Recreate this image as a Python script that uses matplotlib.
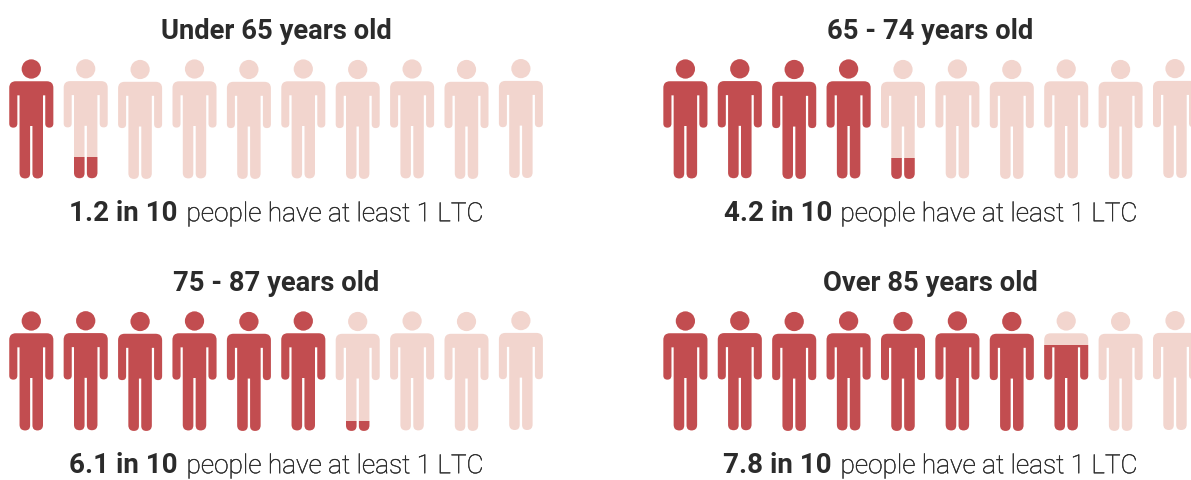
import matplotlib
matplotlib.use("Agg")
import matplotlib.pyplot as plt
import matplotlib.patheffects as pe
from matplotlib.patches import Circle, PathPatch, Rectangle
from matplotlib.path import Path

# data
titles = ["Under 65 years old", "65 - 74 years old", "75 - 87 years old", "Over 85 years old"]
values = [1.2, 4.2, 6.1, 7.8]
n_people = 10
caption_tail = "people have at least 1 LTC"

RED = "#C24D50"
LIGHT = "#F2D5CE"
INK = "#2B2B2B"
FONT = "Roboto"

# panel origin, x of the first person and y shift, in pixels
panel_x = [31.3, 685.4, 31.3, 685.4]
panel_y = [0, 0, 252, 252]
title_x = [276, 930, 276, 930]
caption_x = [276.5, 930.5, 276.5, 930.5]
step = 54.4
# the icons in the source sit slightly off a straight line
wobble = [0, -0.2, 0.5, 0, 0.5, 0, 0.5, 0, 0.5, -0.4]


def rounded_path(pts):
    # pts = (x, y, radius) corners of a closed outline
    verts, codes = [], []
    n = len(pts)
    for i in range(n):
        x0, y0, _ = pts[i - 1]
        x1, y1, r = pts[i]
        x2, y2, _ = pts[(i + 1) % n]
        d0 = ((x1 - x0) ** 2 + (y1 - y0) ** 2) ** 0.5
        d2 = ((x2 - x1) ** 2 + (y2 - y1) ** 2) ** 0.5
        a = (x1 + (x0 - x1) * r / d0, y1 + (y0 - y1) * r / d0)
        b = (x1 + (x2 - x1) * r / d2, y1 + (y2 - y1) * r / d2)
        verts.append(a)
        codes.append(Path.MOVETO if i == 0 else Path.LINETO)
        if r > 0:
            verts += [(x1, y1), b]
            codes += [Path.CURVE3, Path.CURVE3]
    verts.append(verts[0])
    codes.append(Path.CLOSEPOLY)
    return Path(verts, codes)


def body_path(cx, dy):
    half = [
        (22, 81.3, 6.5), (22, 127.6, 4), (14, 127.6, 4), (14, 95.3, 0),
        (11.7, 95.3, 0), (11.7, 178.4, 5.6), (1.2, 178.4, 5), (1.2, 126, 0),
    ]
    left = [(-x, y, r) for x, y, r in reversed(half)]
    pts = [(cx + x, y + dy, r) for x, y, r in half + left]
    return rounded_path(pts)


def draw_person(ax, cx, dy, fill):
    for color, amount in ((LIGHT, 1.0), (RED, fill)):
        if amount <= 0:
            continue
        head = Circle((cx, 69 + dy), 9.6, fc=color, ec="none")
        body = PathPatch(body_path(cx, dy), fc=color, ec="none")
        ax.add_patch(head)
        ax.add_patch(body)
        if amount < 1:
            h = amount * 108
            clip = Rectangle((cx - 30, 179 + dy - h), 60, h, transform=ax.transData)
            head.set_clip_path(clip)
            body.set_clip_path(clip)


def draw_caption(fig, ax, center, y, value):
    bold = ax.text(0, y, f"{value} in 10", family=FONT, weight="bold", fontsize=20,
                   color=INK, va="baseline", ha="left")
    light = ax.text(0, y, caption_tail, family=FONT, weight="light", fontsize=18.9,
                    color=INK, va="baseline", ha="left")
    # Roboto Light comes out greyer than the source, thicken it a touch
    light.set_path_effects([pe.withStroke(linewidth=0.3, foreground=INK)])
    r = fig.canvas.get_renderer()
    w1 = bold.get_window_extent(r).width
    w2 = light.get_window_extent(r).width
    gap = 8.5
    left = center - (w1 + gap + w2) / 2
    bold.set_x(left)
    light.set_x(left + w1 + gap)


fig = plt.figure(figsize=(11.91, 4.8), dpi=100)
ax = fig.add_axes([0, 0, 1, 1])
ax.set_xlim(0, 1191)
ax.set_ylim(480, 0)
ax.axis("off")

for k in range(len(titles)):
    for i in range(n_people):
        fill = min(max(values[k] - i, 0), 1)
        draw_person(ax, panel_x[k] + i * step, panel_y[k] + wobble[i], fill)
    ax.text(title_x[k], 39.2 + panel_y[k], titles[k], family=FONT, weight="bold",
            fontsize=19.7, color=INK, ha="center", va="baseline")
    draw_caption(fig, ax, caption_x[k], 221.2 + panel_y[k], values[k])

fig.savefig("out.png", dpi=100)
